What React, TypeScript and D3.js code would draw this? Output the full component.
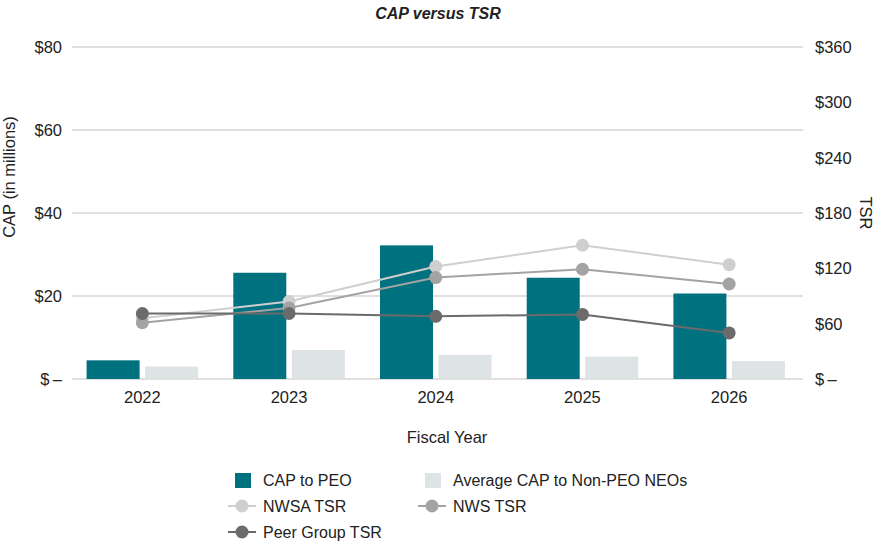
// CAP versus TSR combo chart
import React, { useEffect, useRef } from 'react';
import * as d3 from 'd3';

const years = ['2022', '2023', '2024', '2025', '2026'];
const capToPeo = [4.5, 25.6, 32.2, 24.4, 20.6];
const avgCapNonPeo = [3.0, 7.0, 5.8, 5.4, 4.3];
const nwsaTsr = [66, 84, 122, 145, 124];
const nwsTsr = [61, 77, 110, 119, 103];
const peerTsr = [71, 71, 68, 70, 50];
const leftTicks = [0, 20, 40, 60, 80];
const rightTicks = [0, 60, 120, 180, 240, 300, 360];

const TEAL = '#00717f';
const NEO = '#dee3e6';
const NWSA = '#cfcfcf';
const NWS = '#a3a3a3';
const PEER = '#6b6b6d';
const FONT = '"Liberation Sans", Arial, sans-serif';
const INK = '#222';

const money = (v: number) => (v === 0 ? '$\u2009\u2013' : `$${v}`);

const App: React.FC = () => {
  const ref = useRef<SVGSVGElement>(null);

  useEffect(() => {
    if (!ref.current) return;
    const svg = d3.select(ref.current);
    svg.selectAll('*').remove();

    const width = 877;
    const height = 542;
    const left = 72;
    const right = 803;
    const top = 47;
    const bottom = 379;

    svg.attr('width', width).attr('height', height).style('font-family', FONT);

    const x = d3.scaleBand().domain(years).range([69, 802.5]);
    const yL = d3.scaleLinear().domain([0, 80]).range([bottom, top]);
    const yR = d3.scaleLinear().domain([0, 360]).range([bottom, top]);

    // gridlines
    svg.append('g')
      .selectAll('line')
      .data(leftTicks)
      .join('line')
      .attr('x1', left)
      .attr('x2', right)
      .attr('y1', (d) => yL(d))
      .attr('y2', (d) => yL(d))
      .attr('stroke', '#d6d6d6')
      .attr('stroke-width', 1.5);

    // left axis labels
    svg.append('g')
      .selectAll('text')
      .data(leftTicks)
      .join('text')
      .attr('x', 62)
      .attr('y', (d) => yL(d) + 6)
      .attr('text-anchor', 'end')
      .style('font-size', '16.5px')
      .attr('fill', INK)
      .text((d) => money(d));

    // right axis labels
    svg.append('g')
      .selectAll('text')
      .data(rightTicks)
      .join('text')
      .attr('x', 815)
      .attr('y', (d) => yR(d) + 6)
      .attr('text-anchor', 'start')
      .style('font-size', '16.5px')
      .attr('fill', INK)
      .text((d) => money(d));

    // bars
    const barW = 53;
    const gap = 5.5;
    const cx = (y: string) => (x(y) ?? 0) + x.bandwidth() / 2;

    svg.append('g')
      .selectAll('rect')
      .data(capToPeo)
      .join('rect')
      .attr('x', (_, i) => cx(years[i]) - gap / 2 - barW)
      .attr('y', (d) => yL(d))
      .attr('width', barW)
      .attr('height', (d) => bottom - yL(d))
      .attr('fill', TEAL);

    svg.append('g')
      .selectAll('rect')
      .data(avgCapNonPeo)
      .join('rect')
      .attr('x', (_, i) => cx(years[i]) + gap / 2)
      .attr('y', (d) => yL(d))
      .attr('width', barW)
      .attr('height', (d) => bottom - yL(d))
      .attr('fill', NEO);

    // lines
    const series: [number[], string][] = [
      [nwsaTsr, NWSA],
      [nwsTsr, NWS],
      [peerTsr, PEER],
    ];
    const line = d3.line<number>()
      .x((_, i) => cx(years[i]))
      .y((d) => yR(d));

    series.forEach(([vals, color]) => {
      const g = svg.append('g');
      g.append('path')
        .datum(vals)
        .attr('fill', 'none')
        .attr('stroke', color)
        .attr('stroke-width', 2)
        .attr('d', line);
      g.selectAll('circle')
        .data(vals)
        .join('circle')
        .attr('cx', (_, i) => cx(years[i]))
        .attr('cy', (d) => yR(d))
        .attr('r', 6.5)
        .attr('fill', color);
    });

    // x labels
    svg.append('g')
      .selectAll('text')
      .data(years)
      .join('text')
      .attr('x', (d) => cx(d))
      .attr('y', 403)
      .attr('text-anchor', 'middle')
      .style('font-size', '16.5px')
      .attr('fill', INK)
      .text((d) => d);

    // titles
    svg.append('text')
      .attr('x', 438)
      .attr('y', 19)
      .attr('text-anchor', 'middle')
      .style('font-size', '16px')
      .style('font-weight', 'bold')
      .style('font-style', 'italic')
      .attr('fill', INK)
      .text('CAP versus TSR');

    svg.append('text')
      .attr('x', 447)
      .attr('y', 443)
      .attr('text-anchor', 'middle')
      .style('font-size', '16.5px')
      .attr('fill', INK)
      .text('Fiscal Year');

    svg.append('text')
      .attr('transform', 'translate(15,177) rotate(-90)')
      .attr('text-anchor', 'middle')
      .style('font-size', '16.5px')
      .attr('fill', INK)
      .text('CAP (in millions)');

    svg.append('text')
      .attr('transform', 'translate(860,213) rotate(90)')
      .attr('text-anchor', 'middle')
      .style('font-size', '16.5px')
      .attr('fill', INK)
      .text('TSR');

    // legend
    const legend = svg.append('g').style('font-size', '16px');
    const rect = (lx: number, ly: number, color: string, label: string) => {
      legend.append('rect')
        .attr('x', lx).attr('y', ly - 7).attr('width', 16).attr('height', 15)
        .attr('fill', color);
      legend.append('text')
        .attr('x', lx + 28).attr('y', ly + 6).attr('fill', INK).text(label);
    };
    const sym = (lx: number, ly: number, color: string, label: string) => {
      legend.append('line')
        .attr('x1', lx).attr('x2', lx + 28).attr('y1', ly).attr('y2', ly)
        .attr('stroke', color).attr('stroke-width', 2);
      legend.append('circle')
        .attr('cx', lx + 14).attr('cy', ly).attr('r', 6.5).attr('fill', color);
      legend.append('text')
        .attr('x', lx + 35).attr('y', ly + 6).attr('fill', INK).text(label);
    };
    rect(235, 480, TEAL, 'CAP to PEO');
    rect(425, 480, NEO, 'Average CAP to Non-PEO NEOs');
    sym(228, 506, NWSA, 'NWSA TSR');
    sym(418, 506, NWS, 'NWS TSR');
    sym(228, 532, PEER, 'Peer Group TSR');
  }, []);

  return <svg ref={ref} style={{ position: 'absolute', left: 0, top: 0 }}></svg>;
};

export default App;
